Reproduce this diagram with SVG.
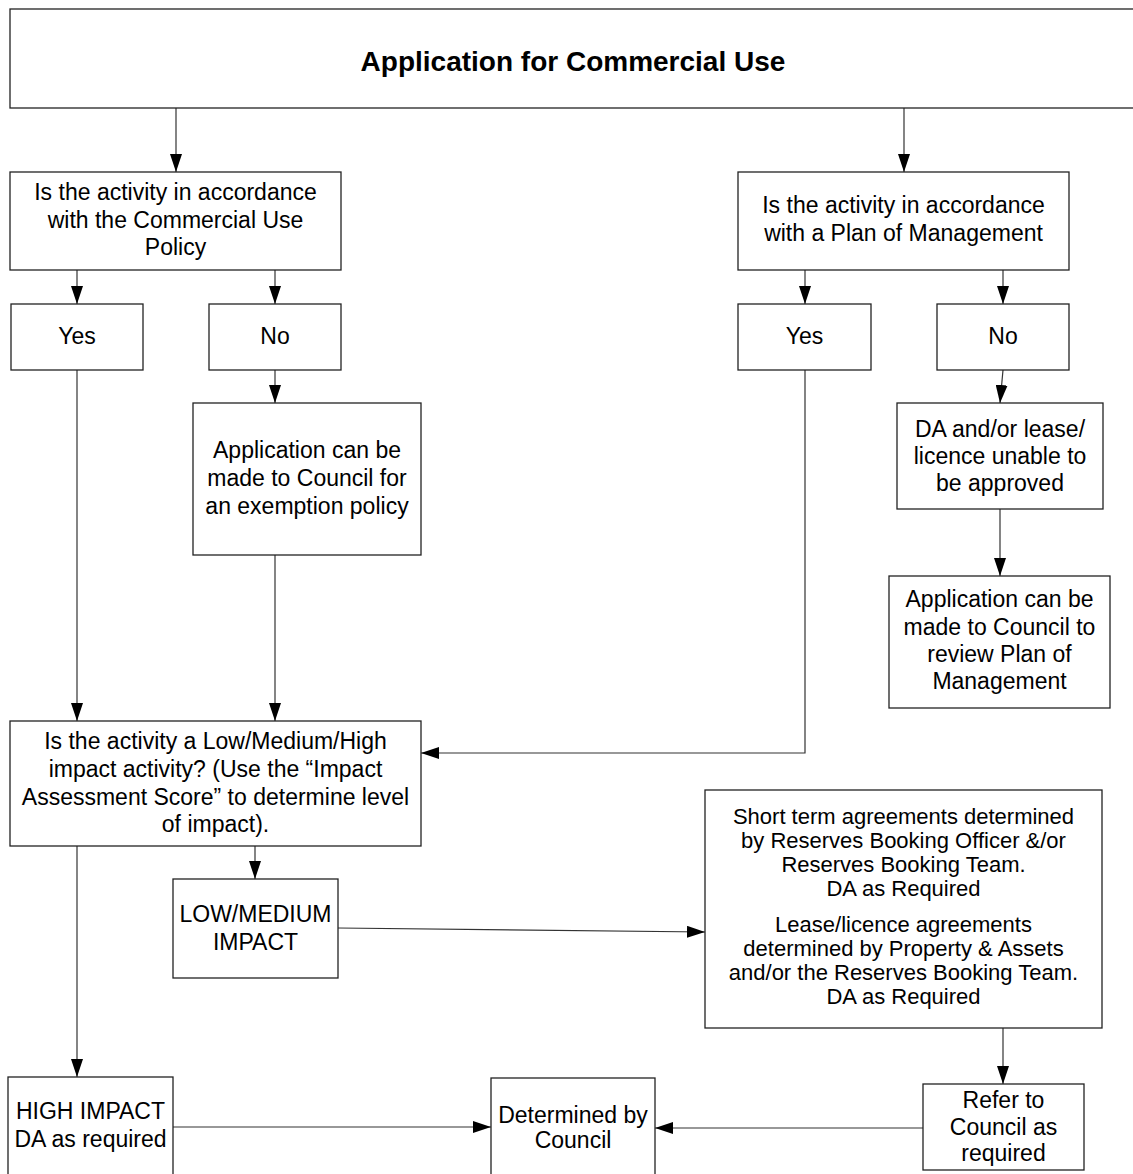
<svg xmlns="http://www.w3.org/2000/svg" width="1133" height="1174" viewBox="0 0 1133 1174">
<style>
  .box { fill: #ffffff; stroke: #222222; stroke-width: 1.3; }
  .t { font-family: "Liberation Sans", Arial, sans-serif; font-size: 23px; fill: #000000; text-anchor: middle; }
  .ts { font-family: "Liberation Sans", Arial, sans-serif; font-size: 22px; fill: #000000; text-anchor: middle; }
  .title { font-family: "Liberation Sans", Arial, sans-serif; font-size: 28px; font-weight: bold; fill: #000000; text-anchor: middle; }
  .c { fill: none; stroke: #333333; stroke-width: 1.2; marker-end: url(#arrow); }
</style>
<defs>
  <marker id="arrow" viewBox="0 0 18 12" refX="18" refY="6" markerWidth="18" markerHeight="12" markerUnits="userSpaceOnUse" orient="auto">
    <path d="M0,0 L18,6 L0,12 z" fill="#000000"/>
  </marker>
</defs>
<rect width="1133" height="1174" fill="#ffffff"/>

<g id="connectors">
  <path class="c" d="M176,108 L176,172"/>
  <path class="c" d="M904,108 L904,172"/>
  <path class="c" d="M77,270 L77,304"/>
  <path class="c" d="M275,270 L275,304"/>
  <path class="c" d="M805,270 L805,304"/>
  <path class="c" d="M1003,270 L1003,304"/>
  <path class="c" d="M275,370 L275,403"/>
  <path class="c" d="M1003,370 L1000,403"/>
  <path class="c" d="M1000,509 L1000,576"/>
  <path class="c" d="M77,370 L77,721"/>
  <path class="c" d="M275,555 L275,721"/>
  <path class="c" d="M805,370 L805,753 L421,753"/>
  <path class="c" d="M255,846 L255,879"/>
  <path class="c" d="M77,846 L77,1077"/>
  <path class="c" d="M338,928 L705,932"/>
  <path class="c" d="M1003,1028 L1003,1084"/>
  <path class="c" d="M173,1127 L491,1127"/>
  <path class="c" d="M923,1128 L655,1128"/>
</g>

<g id="node-title">
  <rect class="box" x="10" y="9" width="1140" height="99"/>
  <text class="title" x="573" y="71">Application for Commercial Use</text>
</g>

<g id="node-q1">
  <rect class="box" x="10" y="172" width="331" height="98"/>
  <text class="t" x="175.5" y="200">Is the activity in accordance</text>
  <text class="t" x="175.5" y="228">with the Commercial Use</text>
  <text class="t" x="175.5" y="255">Policy</text>
</g>

<g id="node-q2">
  <rect class="box" x="738" y="172" width="331" height="98"/>
  <text class="t" x="903.5" y="213">Is the activity in accordance</text>
  <text class="t" x="903.5" y="241">with a Plan of Management</text>
</g>

<g id="node-yes1">
  <rect class="box" x="11" y="304" width="132" height="66"/>
  <text class="t" x="77" y="344">Yes</text>
</g>

<g id="node-no1">
  <rect class="box" x="209" y="304" width="132" height="66"/>
  <text class="t" x="275" y="344">No</text>
</g>

<g id="node-yes2">
  <rect class="box" x="738" y="304" width="133" height="66"/>
  <text class="t" x="804.5" y="344">Yes</text>
</g>

<g id="node-no2">
  <rect class="box" x="937" y="304" width="132" height="66"/>
  <text class="t" x="1003" y="344">No</text>
</g>

<g id="node-exemption">
  <rect class="box" x="193" y="403" width="228" height="152"/>
  <text class="t" x="307" y="458">Application can be</text>
  <text class="t" x="307" y="486">made to Council for</text>
  <text class="t" x="307" y="514">an exemption policy</text>
</g>

<g id="node-unable">
  <rect class="box" x="897" y="403" width="206" height="106"/>
  <text class="t" x="1000" y="437">DA and/or lease/</text>
  <text class="t" x="1000" y="464">licence unable to</text>
  <text class="t" x="1000" y="491">be approved</text>
</g>

<g id="node-review">
  <rect class="box" x="889" y="576" width="221" height="132"/>
  <text class="t" x="999.5" y="607">Application can be</text>
  <text class="t" x="999.5" y="635">made to Council to</text>
  <text class="t" x="999.5" y="662">review Plan of</text>
  <text class="t" x="999.5" y="689">Management</text>
</g>

<g id="node-impact">
  <rect class="box" x="10" y="721" width="411" height="125"/>
  <text class="t" x="215.5" y="749">Is the activity a Low/Medium/High</text>
  <text class="t" x="215.5" y="777">impact activity? (Use the “Impact</text>
  <text class="t" x="215.5" y="805">Assessment Score” to determine level</text>
  <text class="t" x="215.5" y="832">of impact).</text>
</g>

<g id="node-lowmed">
  <rect class="box" x="173" y="879" width="165" height="99"/>
  <text class="t" x="255.5" y="922">LOW/MEDIUM</text>
  <text class="t" x="255.5" y="950">IMPACT</text>
</g>

<g id="node-agreements">
  <rect class="box" x="705" y="790" width="397" height="238"/>
  <text class="ts" x="903.5" y="824">Short term agreements determined</text>
  <text class="ts" x="903.5" y="848">by Reserves Booking Officer &amp;/or</text>
  <text class="ts" x="903.5" y="872">Reserves Booking Team.</text>
  <text class="ts" x="903.5" y="896">DA as Required</text>
  <text class="ts" x="903.5" y="932">Lease/licence agreements</text>
  <text class="ts" x="903.5" y="956">determined by Property &amp; Assets</text>
  <text class="ts" x="903.5" y="980">and/or the Reserves Booking Team.</text>
  <text class="ts" x="903.5" y="1004">DA as Required</text>
</g>

<g id="node-high">
  <rect class="box" x="8" y="1077" width="165" height="110"/>
  <text class="t" x="90.5" y="1119">HIGH IMPACT</text>
  <text class="t" x="90.5" y="1147">DA as required</text>
</g>

<g id="node-determined">
  <rect class="box" x="491" y="1078" width="164" height="110"/>
  <text class="t" x="573" y="1123">Determined by</text>
  <text class="t" x="573" y="1148">Council</text>
</g>

<g id="node-refer">
  <rect class="box" x="923" y="1084" width="161" height="86"/>
  <text class="t" x="1003.5" y="1108">Refer to</text>
  <text class="t" x="1003.5" y="1135">Council as</text>
  <text class="t" x="1003.5" y="1161">required</text>
</g>
</svg>
